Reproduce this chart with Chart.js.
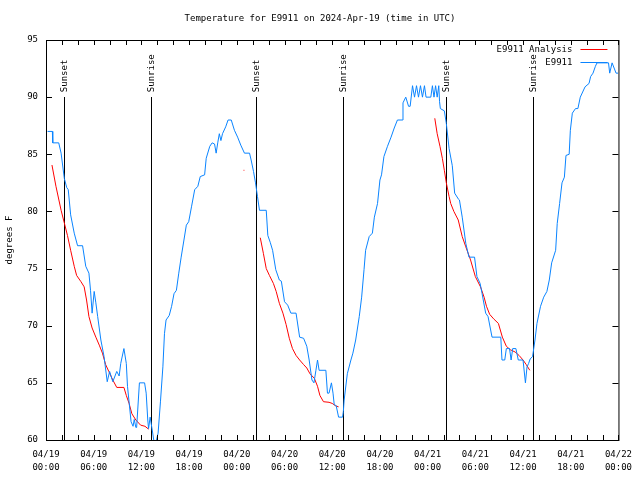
<!DOCTYPE html>
<html>
<head>
<meta charset="utf-8">
<script src="https://cdn.jsdelivr.net/npm/chart.js@4/dist/chart.umd.min.js"></script>
<style>
  body { margin: 0; background: #fff; }
  canvas { display: block; }
</style>
</head>
<body>
<canvas id="tempChart" width="640" height="480"></canvas>
<script>
const chartTitle = "Temperature for E9911 on 2024-Apr-19 (time in UTC)";

// hours since 04/19 00:00 UTC
const xTickLabels = [
  ["04/19", "00:00"], ["04/19", "06:00"], ["04/19", "12:00"], ["04/19", "18:00"],
  ["04/20", "00:00"], ["04/20", "06:00"], ["04/20", "12:00"], ["04/20", "18:00"],
  ["04/21", "00:00"], ["04/21", "06:00"], ["04/21", "12:00"], ["04/21", "18:00"],
  ["04/22", "00:00"],
];

const sunEventHours = [2.3, 13.2, 26.35, 37.3, 50.35, 61.25];
const sunEventLabels = ["Sunset", "Sunrise", "Sunset", "Sunrise", "Sunset", "Sunrise"];

// E9911 observed
const obsHours = [
  0.2, 0.8, 0.85, 1.6, 1.9, 2.3, 2.6, 2.8, 3.1, 3.55, 3.97, 4.6, 5.0, 5.4, 5.6, 5.8,
  6.06, 6.27, 6.5, 6.9, 7.3, 7.7, 8.0, 8.4, 8.9, 9.2, 9.4, 9.8, 10.1, 10.25, 10.7,
  10.95, 11.1, 11.3, 11.4, 11.75, 12.4, 12.6, 12.8, 12.9, 13.1, 13.4, 13.55, 13.75,
  13.9, 14.1, 14.4, 14.7, 14.9, 15.1, 15.5, 15.8, 16.1, 16.4, 16.7, 17.0, 17.35,
  17.65, 17.95, 18.3, 18.7, 19.1, 19.4, 19.95, 20.15, 20.6, 20.9, 21.2, 21.4, 21.6,
  21.8, 22.0, 22.2, 22.6, 22.9, 23.3, 23.7, 24.1, 24.5, 24.96, 25.6, 25.8, 26.1,
  26.35, 26.6, 26.85, 27.7, 27.9, 28.2, 28.5, 28.9, 29.35, 29.6, 30.0, 30.4, 30.8,
  31.45, 31.9, 32.4, 32.8, 33.1, 33.45, 33.7, 33.95, 34.15, 34.35, 35.2, 35.4, 35.6,
  35.9, 36.1, 36.25, 36.5, 36.8, 37.3, 37.4, 37.5, 37.9, 38.35, 38.6, 38.95, 39.4,
  39.7, 40.0, 40.2, 40.65, 41.05, 41.3, 41.7, 42.0, 42.2, 42.5, 42.95, 43.4, 43.8,
  44.2, 44.8, 44.9, 45.25, 45.6, 45.8, 46.1, 46.35, 46.6, 46.85, 47.1, 47.35, 47.6,
  47.8, 48.4, 48.6, 48.8, 49.0, 49.2, 49.4, 49.5, 49.6, 50.1, 50.35, 50.7, 51.1,
  51.4, 51.9, 52.0, 52.35, 52.8, 53.2, 53.9, 54.2, 54.6, 54.85, 55.3, 55.6, 56.1,
  57.2, 57.35, 57.7, 57.9, 58.3, 58.5, 58.7, 59.1, 59.4, 60.0, 60.3, 60.5, 60.7,
  60.9, 61.2, 61.5, 61.75, 62.2, 62.6, 63.0, 63.3, 63.6, 64.1, 64.3, 64.6, 64.9,
  65.2, 65.4, 65.8, 65.95, 66.2, 66.6, 66.9, 67.2, 67.8, 68.3, 68.5, 68.8, 69.1,
  69.3, 70.75, 70.9, 71.2, 71.7, 71.95,
];
const obsTemps = [
  87.0, 87.0, 86.0, 86.0, 85.1, 82.9, 82.1, 81.9, 79.7, 78.1, 77.0, 77.0, 75.2, 74.6, 73.1, 71.1,
  73.0, 72.0, 70.8, 68.75, 67.3, 65.1, 66.0, 65.1, 66.0, 65.6, 66.7, 68.0, 66.7, 64.7, 61.6,
  61.2, 61.8, 61.1, 61.1, 65.0, 65.0, 64.1, 61.75, 61.0, 62.0, 60.7, 60.0, 59.5,
  60.0, 60.6, 63.4, 66.4, 69.3, 70.5, 70.9, 71.7, 72.8, 73.1, 74.6, 76.0, 77.5,
  78.8, 79.1, 80.4, 81.9, 82.2, 83.05, 83.2, 84.65, 85.7, 86.0, 85.9, 85.1, 86.0,
  86.8, 86.2, 86.8, 87.4, 88.0, 88.0, 87.1, 86.5, 85.8, 85.1, 85.1, 84.5, 83.5,
  82.5, 81.3, 80.1, 80.1, 77.9, 77.3, 76.6, 74.9, 74.0, 73.9, 72.1, 71.8, 71.1,
  71.1, 69.0, 68.9, 68.2, 67.0, 65.25, 65.0, 66.1, 67.0, 66.1, 66.1, 64.1, 64.1,
  65.0, 64.1, 63.1, 63.0, 62.0, 62.0, 62.5, 63.5, 65.8, 67.0, 67.6, 68.75, 70.8,
  72.5, 74.9, 76.6, 77.8, 78.1, 79.5, 80.7, 82.75, 83.2, 84.8, 85.7, 86.5, 87.3,
  88.0, 88.0, 89.5, 90.0, 89.2, 89.2, 91.0, 90.0, 91.0, 90.0, 91.0, 90.0, 91.0,
  90.0, 90.0, 91.0, 90.0, 91.0, 90.0, 91.0, 89.6, 89.0, 88.8, 87.7, 85.5, 84.0,
  81.6, 81.05, 81.0, 79.5, 77.2, 76.0, 76.0, 74.3, 73.7, 72.8, 71.1, 70.8, 69.0,
  69.0, 67.0, 67.0, 68.0, 68.0, 67.0, 68.0, 68.0, 67.0, 67.0, 65.0, 66.4, 66.7,
  67.1, 67.3, 68.75, 70.2, 71.7, 72.5, 73.0, 74.0, 75.5, 76.6, 78.95, 80.7, 82.5,
  83.0, 84.9, 85.0, 87.1, 88.6, 89.0, 89.0, 90.0, 90.9, 91.2, 91.8, 92.1, 92.7,
  93.0, 93.0, 92.1, 93.0, 92.1, 92.1,
];

// E9911 Analysis (null = gap)
const analysisHours = [
  0.75, 1.25, 1.9, 2.3, 2.7, 3.1, 3.55, 3.85, 4.4, 4.8, 5.1, 5.4, 5.8, 6.27, 6.7, 7.1,
  7.5, 7.9, 8.4, 8.9, 9.8, 10.1, 10.45, 10.8, 11.3, 11.9, 12.45, 12.9,
  18.0,
  24.85, 24.95,
  25.5,
  26.95, 27.35, 27.7, 28.1, 28.6, 28.95, 29.35, 29.8, 30.2, 30.6, 31.0, 31.45, 31.9,
  32.4, 32.8, 33.2, 33.75, 34.15, 34.45, 34.9, 35.6, 36.0, 36.4, 36.8,
  42.0,
  48.9, 49.2, 49.55, 49.85, 50.1, 50.35, 50.7, 50.9, 51.3, 51.85, 52.35, 52.8, 53.4,
  54.0, 54.65, 55.1, 55.4, 55.8, 56.3, 56.9, 57.4, 57.9, 58.4, 59.0, 59.5, 60.0,
  60.4, 60.85,
];
const analysisTemps = [
  84.06, 82.2, 80.1, 79.0, 77.9, 76.6, 75.2, 74.4, 73.85, 73.4, 72.25, 70.8, 69.8, 69.0, 68.3, 67.6,
  66.6, 66.0, 65.25, 64.6, 64.6, 63.9, 63.2, 62.3, 61.75, 61.3, 61.2, 60.95,
  null,
  83.6, 83.6,
  null,
  77.7, 76.3, 75.0, 74.4, 73.7, 73.0, 71.96, 71.1, 70.1, 68.9, 68.0, 67.4, 67.0,
  66.6, 66.3, 65.8, 65.4, 64.7, 63.9, 63.35, 63.3, 63.2, 63.0, 62.9,
  null,
  88.15, 86.8, 85.7, 84.65, 83.6, 82.5, 81.3, 80.7, 80.0, 79.25, 77.8, 76.9, 75.75,
  74.3, 73.4, 72.5, 71.7, 71.0, 70.6, 70.2, 69.0, 68.2, 67.9, 67.7, 67.4, 67.0,
  66.6, 66.1,
];

const sunLineTop = 90;
const fontName = "DejaVu Sans Mono";

const toPoints = (xs, ys) => xs.map((x, i) => ({ x: x, y: ys[i] }));

const datasets = [
  {
    label: "E9911",
    data: toPoints(obsHours, obsTemps),
    borderColor: "#0a84ff",
    borderWidth: 1,
    pointRadius: 0,
    order: 0,
  },
  {
    label: "E9911 Analysis",
    data: toPoints(analysisHours, analysisTemps),
    borderColor: "#ff0000",
    borderWidth: 1,
    pointRadius: 0,
    spanGaps: false,
    order: 1,
  },
];

const framePlugin = {
  id: "frame",
  beforeDatasetsDraw(chart) {
    // sunrise / sunset markers under the data
    const ctx = chart.ctx;
    const xs = chart.scales.x;
    const ys = chart.scales.y;
    ctx.save();
    ctx.strokeStyle = "#000";
    ctx.lineWidth = 1;
    ctx.beginPath();
    sunEventHours.forEach((h) => {
      const px = Math.round(xs.getPixelForValue(h)) + 0.5;
      ctx.moveTo(px, Math.round(ys.getPixelForValue(sunLineTop)));
      ctx.lineTo(px, ys.getPixelForValue(60));
    });
    ctx.stroke();
    ctx.restore();
  },
  afterDraw(chart) {
    const ctx = chart.ctx;
    const area = chart.chartArea;
    const xs = chart.scales.x;
    const ys = chart.scales.y;

    ctx.save();
    ctx.strokeStyle = "#000";
    ctx.lineWidth = 1;
    ctx.strokeRect(area.left + 0.5, area.top + 0.5, area.right - area.left, area.bottom - area.top);

    ctx.beginPath();
    for (let h = 0; h <= 72; h += 2) {
      const px = Math.round(xs.getPixelForValue(h)) + 0.5;
      ctx.moveTo(px, area.bottom);
      ctx.lineTo(px, area.bottom - 5);
      ctx.moveTo(px, area.top);
      ctx.lineTo(px, area.top + 5);
    }
    ys.ticks.forEach((t) => {
      const py = Math.round(ys.getPixelForValue(t.value)) + 0.5;
      ctx.moveTo(area.left, py);
      ctx.lineTo(area.left + 6, py);
      ctx.moveTo(area.right, py);
      ctx.lineTo(area.right - 6, py);
    });
    ctx.stroke();

    ctx.fillStyle = "#000";
    ctx.font = `9px "${fontName}"`;

    sunEventHours.forEach((h, i) => {
      const px = Math.round(xs.getPixelForValue(h)) + 0.5;
      const py = ys.getPixelForValue(sunLineTop) - 5;
      ctx.save();
      ctx.translate(px, py);
      ctx.rotate(-Math.PI / 2);
      ctx.textAlign = "left";
      ctx.textBaseline = "middle";
      ctx.fillText(sunEventLabels[i], 0, 0);
      ctx.restore();
    });

    // legend, top right inside the plot
    const legendItems = [datasets[1], datasets[0]];
    ctx.textAlign = "right";
    ctx.textBaseline = "middle";
    legendItems.forEach((ds, i) => {
      const y = area.top + 9.5 + i * 13;
      ctx.fillText(ds.label, area.right - 46, y);
      ctx.beginPath();
      ctx.strokeStyle = ds.borderColor;
      ctx.moveTo(area.right - 38, y);
      ctx.lineTo(area.right - 11, y);
      ctx.stroke();
    });

    // title
    ctx.textAlign = "center";
    ctx.fillText(chartTitle, 320, 19);
    ctx.restore();
  },
};

let tempCtx = document.querySelector("#tempChart").getContext("2d");

let tempChart = new Chart(tempCtx, {
  type: "line",
  data: { datasets: datasets },
  plugins: [framePlugin],
  options: {
    responsive: false,
    animation: false,
    layout: { padding: { top: 40, right: 20, left: 0, bottom: 0 } },
    plugins: {
      legend: { display: false },
      title: { display: false },
      tooltip: { enabled: false },
    },
    scales: {
      x: {
        type: "linear",
        min: 0,
        max: 72,
        grid: { display: false, drawTicks: false },
        border: { display: false },
        ticks: {
          stepSize: 6,
          padding: 8,
          maxRotation: 0,
          autoSkip: false,
          color: "#000",
          font: { family: fontName, size: 9, lineHeight: 1.45 },
          callback: (value) => xTickLabels[Math.round(value / 6)],
        },
        afterFit: (scale) => {
          scale.height = 40;
        },
      },
      y: {
        min: 60,
        max: 95,
        grid: { display: false, drawTicks: false },
        border: { display: false },
        ticks: {
          stepSize: 5,
          padding: 8,
          color: "#000",
          font: { family: fontName, size: 9 },
        },
        title: {
          display: true,
          text: "degrees F",
          color: "#000",
          padding: { top: 4, bottom: 0 },
          font: { family: fontName, size: 9 },
        },
        afterFit: (scale) => {
          scale.width = 46;
        },
      },
    },
  },
});
</script>
</body>
</html>
